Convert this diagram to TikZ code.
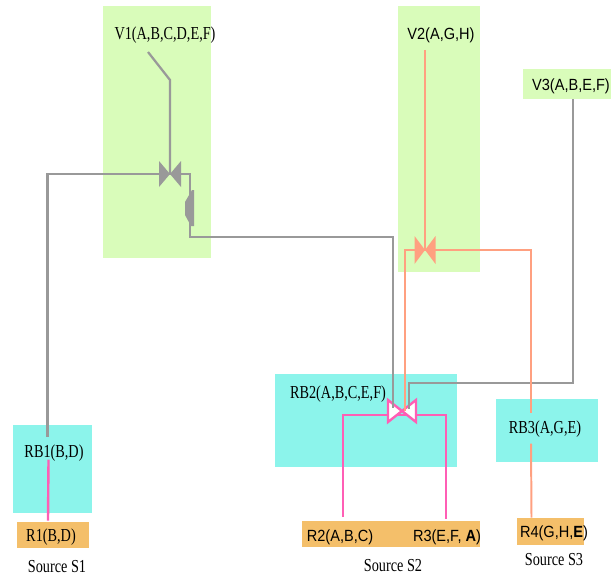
\documentclass[tikz,border=0pt]{standalone}
\usepackage{fontspec}
\newfontfamily\lblserif[FakeStretch=0.78]{Liberation Serif}
\newfontfamily\lblsans[FakeStretch=0.9]{Liberation Sans}
\usetikzlibrary{calc, fit}
\definecolor{viewGreen}{RGB}{217, 252, 186}
\definecolor{bridgeCyan}{RGB}{140, 244, 235}
\definecolor{relOrange}{RGB}{244, 191, 106}
\definecolor{wireGray}{RGB}{153, 153, 153}
\definecolor{wireSalmon}{RGB}{255, 160, 128}
\definecolor{wirePink}{RGB}{255, 94, 181}

\begin{document}
\begin{tikzpicture}[
        x=0.025cm, y=-0.025cm,
        viewbox/.style={rectangle, fill=viewGreen, inner sep=0pt},
        bridgebox/.style={rectangle, fill=bridgeCyan, inner sep=0pt},
        relbox/.style={rectangle, fill=relOrange, inner sep=0pt},
        serlabel/.style={inner sep=0pt, font=\lblserif\fontsize{13}{15}\selectfont},
        sanslabel/.style={inner sep=0pt, font=\lblsans\fontsize{11.5}{13}\selectfont},
        srclabel/.style={inner sep=0pt, font=\lblserif\fontsize{13}{15}\selectfont},
        gwire/.style={draw=wireGray, line width=1.6pt},
        owire/.style={draw=wireSalmon, line width=1.4pt},
        pwire/.style={draw=wirePink, line width=1.7pt},
        joint/.pic={\path[pic actions] (-10,-10) -- (0,0) -- (-10,10) -- cycle (10,-10) -- (0,0) -- (10,10) -- cycle;}
    ]
        \useasboundingbox (0,0) rectangle (615,577);

        % boxes
        \node[viewbox, fit={(103,6) (211,258)}] (v1box) {};
        \node[viewbox, fit={(398,6) (480,272)}] (v2box) {};
        \node[viewbox, fit={(523,69) (611,99)}] (v3box) {};
        \node[bridgebox, fit={(13,425) (92,513)}] (rb1box) {};
        \node[bridgebox, fit={(275,374) (457,467)}] (rb2box) {};
        \node[bridgebox, fit={(496,399) (598,462)}] (rb3box) {};
        \node[relbox, fit={(17,522) (89,548)}] (r1box) {};
        \node[relbox, fit={(302,521) (480,547)}] (rbox) {};
        \node[relbox, fit={(517,518) (584,545)}] (r4box) {};

        % labels
        \node[serlabel] (v1lbl) at (165,35) {V1(A,B,C,D,E,F)};
        \node[sanslabel] (v2lbl) at (441,35) {V2(A,G,H)};
        \node[sanslabel] (v3lbl) at (571,86) {V3(A,B,E,F)};
        \node[serlabel] (rb1lbl) at (54,453) {RB1(B,D)};
        \node[serlabel] (rb2lbl) at (338,394) {RB2(A,B,C,E,F)};
        \node[serlabel] (rb3lbl) at (545,429) {RB3(A,G,E)};
        \node[serlabel] (r1lbl) at (51,537) {R1(B,D)};
        \node[sanslabel] (r2lbl) at (340,537) {R2(A,B,C)};
        \node[sanslabel] (r3lbl) at (447,537) {R3(E,F, \textbf{A})};
        \node[sanslabel] (r4lbl) at (554,533) {R4(G,H,\textbf{E})};
        \node[srclabel] (src1) at (57,567) {Source S1};
        \node[srclabel] (src2) at (393,566) {Source S2};
        \node[srclabel] (src3) at (554,560) {Source S3};

        % joins
        \coordinate (j1) at (170,174);
        \coordinate (k1) at (190,208);
        \coordinate (j2) at (425,250);
        \coordinate (j4) at (402,411);
        \coordinate (v1tap) at (148,52);
        \coordinate (v2tap) at (425,50);

        \draw[pwire] ($(j4)+(0,4)$) -| ($(rbox.north west)+(41,-4)$);
        \draw[pwire] ($(j4)+(0,4)$) -| ($(rbox.north west)+(144,-2)$);
        \draw[pwire] ($(rb1box.north)+(-4,35)$) -- ($(r1box.north)+(-5,-1)$);
        \pic[draw=wirePink, fill=white, line width=1.7pt, xscale=1.4, yscale=1.1] at (j4) {joint};

        \draw[gwire] (v1tap) -- (170,80) -- (j1);
        \draw[gwire] (j1) -| ($(rb1box.north)+(-5,12)$);
        \draw[gwire] (j1) -| (k1) -- ++(0,29) -| ($(j4)+(-9,-3)$);
        \draw[gwire] ($(v3box.south)+(6,0)$) |- ($(j4)+(7,-28)$) -- ($(j4)+(7,-2)$);

        \draw[owire] (v2tap) -- (j2);
        \draw[owire] (j2) -| ($(j4)+(3,0)$);
        \draw[owire] (j2) -| ($(rb3box.north)+(-16,14)$);
        \draw[owire] ($(rb3box.north)+(-16,45)$) -- ($(r4box.north)+(-19,0)$);

        \pic[fill=wireGray, xscale=1.1, yscale=1.3] at (j1) {joint};
        \fill[wireGray] (192,190) -- (194,190) -- (194,226) -- (191,226) -- (185,215) -- (185,202) -- cycle;
        \pic[fill=wireSalmon, xscale=1.05, yscale=1.4] at (j2) {joint};
\end{tikzpicture}
\end{document}
